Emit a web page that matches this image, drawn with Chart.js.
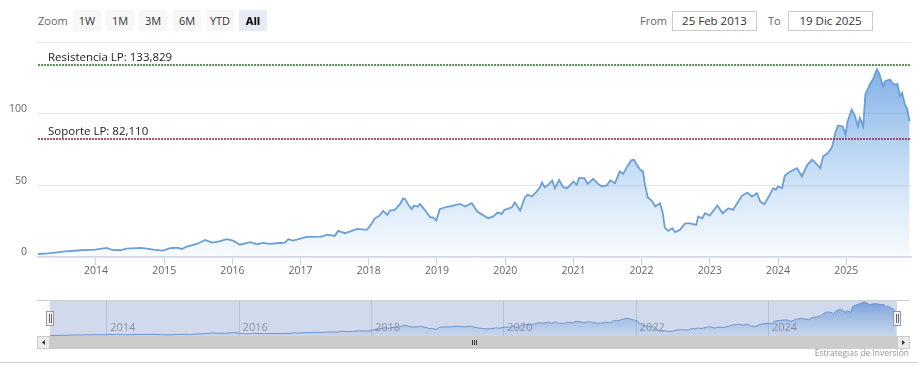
<!DOCTYPE html>
<html>
<head>
<meta charset="utf-8">
<script src="https://cdn.jsdelivr.net/npm/chart.js@4.4.1/dist/chart.umd.min.js"></script>
<style>
body { margin: 0; background: #fff; font-family: "Open Sans", sans-serif; }
#wrap { position: relative; width: 918px; height: 383px; overflow: hidden; }
.lbl { position: absolute; top: 11px; height: 20px; line-height: 20px; font-size: 11px; color: #666; }
.btn { position: absolute; top: 10px; width: 28px; height: 21px; line-height: 21px; text-align: center; font-size: 11px; color: #333; background: #f7f7f7; }
.btn.on { background: #e6ebf5; color: #000; font-weight: bold; }
.box { position: absolute; top: 11px; width: 83px; height: 18px; line-height: 18px; border: 1px solid #ccc; text-align: center; font-size: 11.5px; color: #333; }
canvas { position: absolute; left: 0; }
#sep { position: absolute; left: 0; top: 362px; width: 918px; height: 1px; background: #d0d0d0; }
#credit { position: absolute; right: 9px; top: 347px; font-size: 8.5px; color: #999; }
</style>
</head>
<body>
<div id="wrap">
	<div class="lbl" style="left:38px">Zoom</div>
	<div class="btn" style="left:73px">1W</div>
	<div class="btn" style="left:106px">1M</div>
	<div class="btn" style="left:139px">3M</div>
	<div class="btn" style="left:173px">6M</div>
	<div class="btn" style="left:206px">YTD</div>
	<div class="btn on" style="left:239px">All</div>
	<div class="lbl" style="left:640px">From</div>
	<div class="box" style="left:672px">25 Feb 2013</div>
	<div class="lbl" style="left:768px">To</div>
	<div class="box" style="left:788px">19 Dic 2025</div>
	<canvas id="mainChart" width="918" height="250" style="top:36px"></canvas>
	<canvas id="navChart" width="918" height="60" style="top:290px"></canvas>
	<div id="sep"></div>
	<div id="credit">Estrategias de Inversión</div>
</div>
<script>
// price series (decimal year, value)
var dates = [2013.15, 2013.30, 2013.52, 2013.77, 2013.99, 2014.16, 2014.24, 2014.35, 2014.45, 2014.65, 2014.75, 2014.84, 2014.98,
	2015.09, 2015.19, 2015.26, 2015.33, 2015.48, 2015.60, 2015.70, 2015.79, 2015.92, 2016.01, 2016.11, 2016.26, 2016.36, 2016.45,
	2016.55, 2016.65, 2016.77, 2016.82, 2016.89, 2017.09, 2017.31, 2017.39, 2017.50, 2017.55, 2017.65, 2017.72, 2017.83, 2017.97,
	2018.02, 2018.09, 2018.16, 2018.21, 2018.27, 2018.31, 2018.38, 2018.46, 2018.50, 2018.53, 2018.58, 2018.63, 2018.66, 2018.72,
	2018.75, 2018.82, 2018.90, 2018.94, 2018.99, 2019.04, 2019.12, 2019.22, 2019.34, 2019.41, 2019.51, 2019.59, 2019.67, 2019.75,
	2019.82, 2019.89, 2019.95, 2019.99, 2020.10, 2020.14, 2020.22, 2020.29, 2020.33, 2020.39, 2020.44, 2020.51, 2020.54, 2020.58,
	2020.63, 2020.69, 2020.73, 2020.79, 2020.85, 2020.91, 2021.00, 2021.05, 2021.08, 2021.16, 2021.21, 2021.29, 2021.35, 2021.42,
	2021.49, 2021.54, 2021.61, 2021.68, 2021.73, 2021.79, 2021.85, 2021.89, 2021.93, 2021.98, 2022.02, 2022.05, 2022.09, 2022.15,
	2022.20, 2022.27, 2022.31, 2022.34, 2022.39, 2022.45, 2022.49, 2022.56, 2022.64, 2022.71, 2022.80, 2022.83, 2022.89, 2022.93,
	2023.00, 2023.11, 2023.19, 2023.27, 2023.34, 2023.47, 2023.55, 2023.62, 2023.69, 2023.74, 2023.80, 2023.88, 2023.93, 2023.97,
	2024.00, 2024.06, 2024.10, 2024.18, 2024.28, 2024.35, 2024.43, 2024.50, 2024.54, 2024.62, 2024.66, 2024.73, 2024.79, 2024.84,
	2024.88, 2024.95, 2024.99, 2025.02, 2025.08, 2025.13, 2025.17, 2025.20, 2025.25, 2025.28, 2025.35, 2025.39, 2025.45, 2025.48,
	2025.54, 2025.57, 2025.64, 2025.70, 2025.75, 2025.79, 2025.82, 2025.86, 2025.89, 2025.93];
var prices = [2.1, 2.6, 3.7, 4.7, 5.1, 6.3, 4.9, 4.7, 5.8, 6.3, 5.8, 5.1, 4.4,
	6.1, 6.5, 5.6, 7.2, 9.1, 11.9, 10.0, 10.7, 12.4, 11.4, 8.6, 10.3, 8.9, 9.8,
	9.1, 9.6, 10.0, 12.4, 11.4, 14.0, 14.2, 15.6, 14.7, 18.2, 16.6, 17.7, 19.6, 18.9,
	21.7, 27.0, 28.9, 32.2, 29.4, 32.4, 32.9, 37.0, 40.8, 40.6, 36.4, 33.3, 35.7, 35.2,
	37.0, 32.9, 27.7, 27.7, 25.4, 33.3, 34.7, 35.7, 37.0, 35.2, 37.5, 31.7, 29.4, 27.1,
	28.2, 31.0, 30.1, 32.9, 34.7, 38.0, 32.4, 41.7, 43.4, 42.2, 44.5, 48.7, 52.0, 48.7,
	50.3, 53.4, 48.0, 53.8, 48.7, 48.0, 52.7, 50.3, 55.0, 55.0, 51.0, 54.5, 51.5, 49.2,
	49.9, 53.4, 51.5, 59.7, 58.0, 63.2, 67.4, 67.8, 64.3, 60.8, 59.7, 50.3, 41.7, 39.2,
	35.2, 37.5, 30.6, 20.5, 18.2, 20.1, 17.3, 18.9, 23.5, 23.5, 22.4, 28.2, 27.0, 30.5,
	28.9, 35.9, 30.5, 34.0, 32.9, 42.7, 45.0, 42.2, 44.5, 38.7, 36.8, 43.4, 48.0, 46.9,
	49.2, 48.0, 56.9, 59.7, 62.0, 56.2, 64.3, 67.8, 66.2, 62.0, 70.1, 72.5, 76.4, 86.5,
	91.8, 91.1, 85.3, 94.6, 102.8, 98.1, 91.1, 97.0, 91.1, 113.3, 120.8, 123.8, 130.8, 128.5,
	119.1, 122.6, 123.8, 120.3, 120.8, 112.1, 114.5, 106.3, 104.0, 94.6];

var tickYears = [2014, 2015, 2016, 2017, 2018, 2019, 2020, 2021, 2022, 2023, 2024, 2025];
var navYears = [2014, 2016, 2018, 2020, 2022, 2024];
var yTicks = [0, 50, 100, 150];

// long term levels
var lpValues = [133.829, 82.110];
var lpLabels = ['Resistencia LP: 133,829', 'Soporte LP: 82,110'];
var lpColors = ['#2c6e2c', '#97203e'];

var xMin = 2013.15, xMax = 2025.95;
var FONT = '"Open Sans", sans-serif';

var points = [];
for (var i = 0; i < dates.length; i++) {
	points.push({ x: dates[i], y: prices[i] });
}

var areaFill = function(top, bottom) {
	return function(context) {
		var chart = context.chart;
		var area = chart.chartArea;
		if (!area) return 'rgba(124,181,236,0.3)';
		var g = chart.ctx.createLinearGradient(0, area.top, 0, area.bottom);
		g.addColorStop(0, top);
		g.addColorStop(1, bottom);
		return g;
	};
};

var lpLinesPlugin = {
	id: 'lpLines',
	afterDatasetsDraw: function(chart) {
		var ctx = chart.ctx, area = chart.chartArea, yScale = chart.scales.y;
		ctx.save();
		for (var i = 0; i < lpValues.length; i++) {
			var y = Math.round(yScale.getPixelForValue(lpValues[i]));
			ctx.strokeStyle = lpColors[i];
			ctx.lineWidth = 1.5;
			ctx.setLineDash([2, 1]);
			ctx.beginPath();
			ctx.moveTo(area.left, y);
			ctx.lineTo(area.right, y);
			ctx.stroke();
			ctx.setLineDash([]);
			ctx.fillStyle = '#222';
			ctx.font = '11.5px ' + FONT;
			ctx.textBaseline = 'middle';
			ctx.textAlign = 'left';
			ctx.fillText(lpLabels[i], area.left + 10, y - 7);
		}
		ctx.restore();
	}
};

var mainChart = new Chart(document.getElementById('mainChart'), {
	type: 'line',
	data: {
		datasets: [{
			data: points,
			borderColor: '#6b9fd5',
			borderWidth: 1.8,
			pointRadius: 0,
			tension: 0,
			fill: 'start',
			backgroundColor: areaFill('rgba(80,145,220,0.85)', 'rgba(124,181,236,0.05)')
		}]
	},
	options: {
		responsive: false,
		animation: false,
		layout: { padding: { top: 6, right: 7, left: 0, bottom: 0 } },
		plugins: { legend: { display: false }, tooltip: { enabled: false } },
		scales: {
			x: {
				type: 'linear',
				min: xMin,
				max: xMax,
				afterBuildTicks: function(s) { s.ticks = tickYears.map(function(v) { return { value: v }; }); },
				afterFit: function(s) { s.height = 29; s.paddingLeft = 0; s.paddingRight = 0; },
				grid: { drawOnChartArea: false, drawTicks: true, tickLength: 8, color: '#ccd6eb' },
				border: { color: '#d6dbe6', width: 1.5 },
				ticks: {
					padding: 0, color: '#666', autoSkip: false, maxRotation: 0,
					font: { family: FONT, size: 10.5 },
					callback: function(v) { return String(v); }
				}
			},
			y: {
				min: 0,
				max: 150,
				afterBuildTicks: function(s) { s.ticks = yTicks.map(function(v) { return { value: v }; }); },
				afterFit: function(s) { s.width = 38; s.paddingTop = 0; s.paddingBottom = 0; },
				grid: { color: '#e6e6e6', drawTicks: false },
				border: { display: false },
				ticks: {
					padding: 11, labelOffset: -4.5, color: '#666',
					font: { family: FONT, size: 10.5 },
					callback: function(v) { return v === 150 ? '' : String(v); }
				}
			}
		}
	},
	plugins: [lpLinesPlugin]
});

// navigator + scrollbar
var navDecor = {
	id: 'navDecor',
	beforeDatasetsDraw: function(chart) {
		var ctx = chart.ctx, area = chart.chartArea, xs = chart.scales.x;
		ctx.save();
		ctx.strokeStyle = '#dcdcdc';
		ctx.lineWidth = 1;
		for (var i = 0; i < navYears.length; i++) {
			var x = Math.round(xs.getPixelForValue(navYears[i])) + 0.5;
			ctx.beginPath();
			ctx.moveTo(x, area.top);
			ctx.lineTo(x, area.bottom);
			ctx.stroke();
		}
		ctx.restore();
	},
	afterDatasetsDraw: function(chart) {
		var ctx = chart.ctx, area = chart.chartArea, xs = chart.scales.x;
		ctx.save();
		// mask
		ctx.fillStyle = 'rgba(102,133,194,0.3)';
		ctx.fillRect(area.left, area.top, area.right - area.left, area.bottom - area.top);
		// labels
		ctx.fillStyle = '#8a90a0';
		ctx.font = '11px ' + FONT;
		ctx.textBaseline = 'middle';
		for (var i = 0; i < navYears.length; i++) {
			ctx.fillText(String(navYears[i]), xs.getPixelForValue(navYears[i]) + 4, area.bottom - 8);
		}
		// outline
		ctx.strokeStyle = '#cfcfcf';
		ctx.beginPath();
		ctx.moveTo(37, area.top + 0.5);
		ctx.lineTo(910, area.top + 0.5);
		ctx.stroke();
		// scrollbar
		var sy = area.bottom, sh = 13;
		ctx.fillStyle = '#cccccc';
		ctx.fillRect(area.left, sy, area.right - area.left, sh);
		ctx.fillStyle = '#ebebeb';
		ctx.fillRect(37, sy, 13, sh);
		ctx.fillRect(area.right, sy, 13, sh);
		ctx.strokeStyle = '#cccccc';
		ctx.strokeRect(37.5, sy + 0.5, 12, sh - 1);
		ctx.strokeRect(area.right + 0.5, sy + 0.5, 12, sh - 1);
		ctx.fillStyle = '#333';
		ctx.beginPath();
		ctx.moveTo(42, sy + 6.5); ctx.lineTo(45, sy + 4); ctx.lineTo(45, sy + 9); ctx.closePath(); ctx.fill();
		ctx.beginPath();
		ctx.moveTo(area.right + 8, sy + 6.5); ctx.lineTo(area.right + 5, sy + 4); ctx.lineTo(area.right + 5, sy + 9); ctx.closePath(); ctx.fill();
		var gx = Math.round((area.left + area.right) / 2);
		ctx.strokeStyle = '#333';
		for (var k = -2; k <= 2; k += 2) {
			ctx.beginPath();
			ctx.moveTo(gx + k + 0.5, sy + 4);
			ctx.lineTo(gx + k + 0.5, sy + 9);
			ctx.stroke();
		}
		// handles
		var hs = [area.left, area.right];
		for (var h = 0; h < hs.length; h++) {
			var hx = Math.round(hs[h]);
			ctx.fillStyle = '#f2f2f2';
			ctx.strokeStyle = '#999';
			ctx.fillRect(hx - 3.5, area.top + 11, 7, 15);
			ctx.strokeRect(hx - 3.5, area.top + 11.5, 7, 14);
			ctx.strokeStyle = '#666';
			ctx.beginPath();
			ctx.moveTo(hx - 0.5, area.top + 14); ctx.lineTo(hx - 0.5, area.top + 23);
			ctx.moveTo(hx + 1.5, area.top + 14); ctx.lineTo(hx + 1.5, area.top + 23);
			ctx.stroke();
		}
		ctx.restore();
	}
};

var navChart = new Chart(document.getElementById('navChart'), {
	type: 'line',
	data: {
		datasets: [{
			data: points,
			borderColor: '#6e9ed8',
			borderWidth: 1,
			pointRadius: 0,
			tension: 0,
			fill: 'start',
			backgroundColor: areaFill('rgba(70,135,215,0.75)', 'rgba(124,181,236,0.1)')
		}]
	},
	options: {
		responsive: false,
		animation: false,
		layout: { padding: { left: 50, right: 21, top: 10, bottom: 14 } },
		plugins: { legend: { display: false }, tooltip: { enabled: false } },
		scales: {
			x: { type: 'linear', display: false, min: xMin, max: xMax },
			y: { display: false, min: 0, max: 138 }
		}
	},
	plugins: [navDecor]
});
</script>
</body>
</html>
